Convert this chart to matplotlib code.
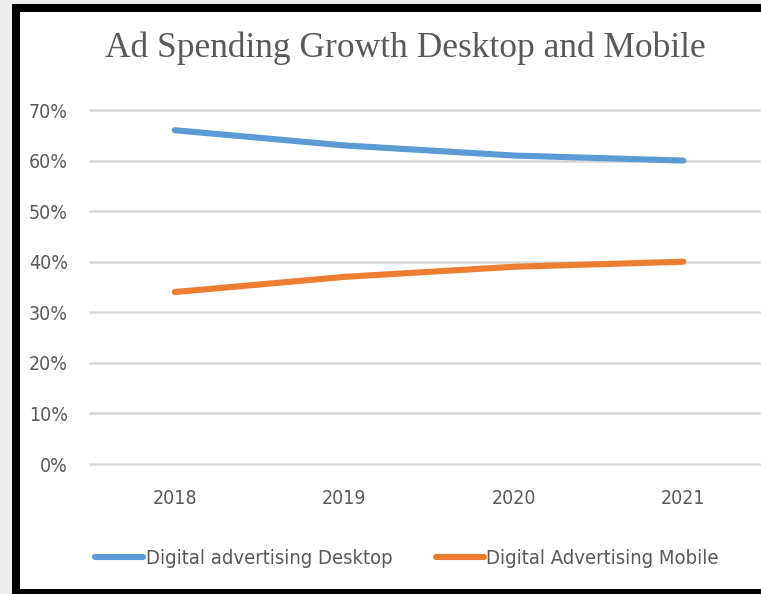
import matplotlib
matplotlib.use("Agg")
import matplotlib.pyplot as plt
from matplotlib.patches import Rectangle
from matplotlib.ticker import PercentFormatter

years = ["2018", "2019", "2020", "2021"]
desktop = [66, 63, 61, 60]
mobile = [34, 37, 39, 40]
y_ticks = [0, 10, 20, 30, 40, 50, 60, 70]
title = "Ad Spending Growth Desktop and Mobile"
series_names = ["Digital advertising Desktop", "Digital Advertising Mobile"]

W, H = 761, 594
fig = plt.figure(figsize=(W / 100, H / 100), dpi=100)
fig.patch.set_facecolor("#efefef")

# black frame and white chart area, kept beneath the axes
fig.patches.append(Rectangle((12 / W, 0), 1.0, (H - 4) / H, transform=fig.transFigure,
                             facecolor="black", edgecolor="none", zorder=-20))
fig.patches.append(Rectangle((20 / W, 5 / H), 1.0, (H - 12 - 5) / H, transform=fig.transFigure,
                             facecolor="white", edgecolor="none", zorder=-10))

label_family = "DejaVu Sans"
label_stretch = "condensed"
text_color = "#595959"

ax = fig.add_axes([90 / W, (H - 464) / H, (768 - 90) / W, (464 - 110) / H])
ax.set_facecolor("none")
x = list(range(len(years)))
ax.plot(x, desktop, color="#5B9BD5", lw=4.4, solid_capstyle="round", label=series_names[0], zorder=3)
ax.plot(x, mobile, color="#ED7D31", lw=4.4, solid_capstyle="round", label=series_names[1], zorder=3)

ax.set_xlim(-0.5, len(years) - 0.5)
ax.set_ylim(0, 70)
ax.set_yticks(y_ticks)
ax.yaxis.set_major_formatter(PercentFormatter(decimals=0))
ax.set_xticks(x)
ax.set_xticklabels(years)
ax.grid(axis="y", color="#d6d6d6", lw=1.8)
for gl in ax.get_ygridlines():
    gl.set_clip_on(False)
ax.set_axisbelow(True)
for s in ax.spines.values():
    s.set_visible(False)
ax.tick_params(length=0, labelsize=14, labelcolor=text_color)
ax.tick_params(axis="y", pad=16)
ax.tick_params(axis="x", pad=18)
for lab in ax.get_xticklabels() + ax.get_yticklabels():
    lab.set_family(label_family)
    lab.set_stretch(label_stretch)

fig.text(405 / W, (H - 48) / H, title, ha="center", va="center",
         family="Liberation Serif", fontsize=25.5, color=text_color)

leg = fig.legend(loc="center left", bbox_to_anchor=(95 / W, (H - 559) / H), ncol=2,
                 frameon=False, borderpad=0, borderaxespad=0, handlelength=2.4,
                 handletextpad=0.12, columnspacing=2.15,
                 prop={"family": label_family, "stretch": label_stretch, "size": 14.5})
for t in leg.get_texts():
    t.set_color(text_color)
for h in leg.legend_handles:
    h.set_solid_capstyle("round")

fig.savefig("out.png", dpi=100)
